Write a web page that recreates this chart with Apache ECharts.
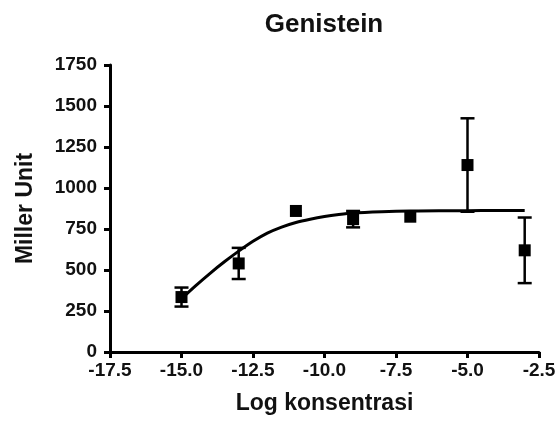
<!DOCTYPE html>
<html>
<head>
<meta charset="utf-8">
<script src="https://cdn.jsdelivr.net/npm/echarts@6/dist/echarts.min.js"></script>
<style>
html,body{margin:0;padding:0;background:#fff;}
#chart{width:560px;height:423px;}
</style>
</head>
<body>
<div id="chart"></div>
<script>
// Data
var logConc   = [-15, -13, -11, -9, -7, -5, -3];
var millerMean = [335, 540, 860, 810, 825, 1140, 620];
var millerErr  = [58, 95, 0, 50, 0, 285, 200];

// Fitted curve
var curveX = [-15, -14.5, -14, -13.5, -13, -12.5, -12, -11.5, -11, -10.5, -10, -9.5, -9, -8, -7, -6, -5, -4, -3];
var curveY = [325, 405, 480, 550, 615, 675, 725, 762, 790, 810, 826, 838, 847, 855, 860, 862, 862, 863, 863];

var xTicks = [-17.5, -15.0, -12.5, -10.0, -7.5, -5.0, -2.5];
var yTicks = [0, 250, 500, 750, 1000, 1250, 1500, 1750];

var chart = echarts.init(document.getElementById('chart'), null, {renderer: 'canvas'});

var points = logConc.map(function (x, i) { return [x, millerMean[i]]; });
var errData = logConc.map(function (x, i) { return [x, millerMean[i] - millerErr[i], millerMean[i] + millerErr[i]]; });
var curve = curveX.map(function (x, i) { return [x, curveY[i]]; });

var FONT = '"Liberation Sans", Arial, sans-serif';

var option = {
  backgroundColor: '#fff',
  animation: false,
  title: {
    text: 'Genistein',
    left: 319, textAlign: 'center',
    top: 7,
    textStyle: {fontFamily: FONT, fontWeight: 'bold', fontSize: 26, color: '#111'}
  },
  grid: {left: 110, right: 21, top: 65, bottom: 71, containLabel: false},
  xAxis: {
    type: 'value',
    min: xTicks[0], max: xTicks[xTicks.length - 1], interval: 2.5,
    name: 'Log konsentrasi',
    nameLocation: 'middle', nameGap: 40,
    nameTextStyle: {fontFamily: FONT, fontWeight: 'bold', fontSize: 23, color: '#111'},
    axisLine: {show: true, onZero: false, lineStyle: {color: '#000', width: 3, cap: 'round'}},
    axisTick: {show: true, length: 6, lineStyle: {color: '#000', width: 3}},
    axisLabel: {
      fontFamily: FONT, fontWeight: 'bold', fontSize: 19, color: '#111', margin: 9,
      formatter: function (v) { return v.toFixed(1); }
    },
    splitLine: {show: false}
  },
  yAxis: {
    type: 'value',
    min: yTicks[0], max: yTicks[yTicks.length - 1], interval: 250,
    name: 'Miller Unit',
    nameLocation: 'middle', nameGap: 73, nameRotate: 90,
    nameTextStyle: {fontFamily: FONT, fontWeight: 'bold', fontSize: 23, color: '#111'},
    axisLine: {show: true, onZero: false, lineStyle: {color: '#000', width: 3}},
    axisTick: {show: true, length: 6, lineStyle: {color: '#000', width: 3}},
    axisLabel: {
      fontFamily: FONT, fontWeight: 'bold', fontSize: 19, color: '#111', margin: 13,
      formatter: function (v) { return String(v); }
    },
    splitLine: {show: false}
  },
  series: [
    {
      type: 'line',
      data: curve,
      smooth: 0.3,
      showSymbol: false,
      symbol: 'none',
      lineStyle: {color: '#000', width: 3},
      z: 2
    },
    {
      type: 'custom',
      data: errData,
      renderItem: function (params, api) {
        var x = api.value(0);
        var lo = api.coord([x, api.value(1)]);
        var hi = api.coord([x, api.value(2)]);
        if (Math.abs(hi[1] - lo[1]) < 1) return null;
        var w = 7;
        var st = {stroke: '#000', lineWidth: 2.5};
        return {
          type: 'group',
          children: [
            {type: 'line', shape: {x1: hi[0], y1: hi[1], x2: lo[0], y2: lo[1]}, style: st},
            {type: 'line', shape: {x1: hi[0] - w, y1: hi[1], x2: hi[0] + w, y2: hi[1]}, style: st},
            {type: 'line', shape: {x1: lo[0] - w, y1: lo[1], x2: lo[0] + w, y2: lo[1]}, style: st}
          ]
        };
      },
      z: 3
    },
    {
      type: 'scatter',
      data: points,
      symbol: 'rect',
      symbolSize: 12,
      itemStyle: {color: '#000', opacity: 1},
      z: 4
    }
  ]
};
chart.setOption(option);
</script>
</body>
</html>
